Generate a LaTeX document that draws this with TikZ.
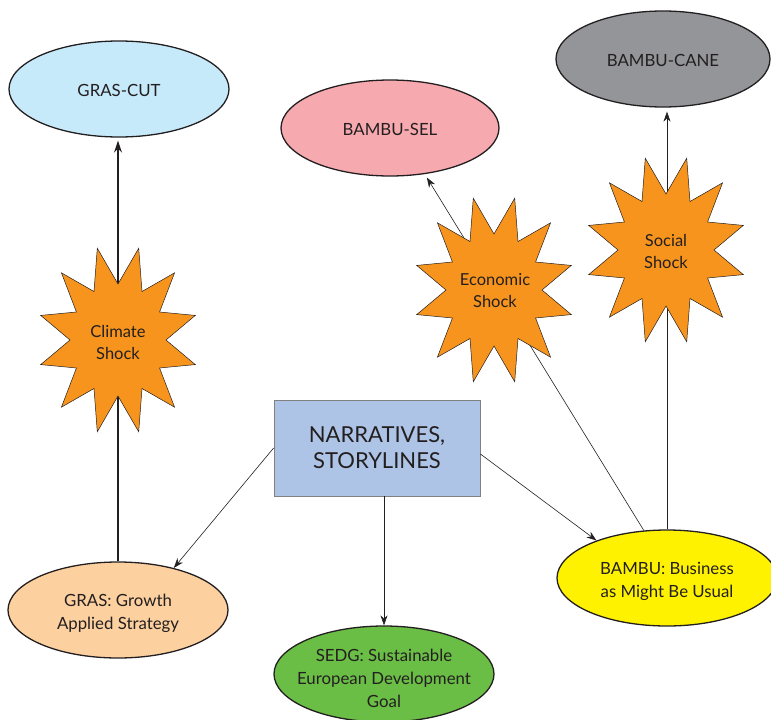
\documentclass[tikz,border=0pt]{standalone}
\usepackage{fontspec}
\setmainfont{Lato}
\usetikzlibrary{arrows.meta,shapes.geometric}
\definecolor{txt}{HTML}{231F20}
\definecolor{cutblue}{HTML}{C7EAFB}
\definecolor{selpink}{HTML}{F6A9AE}
\definecolor{canegray}{HTML}{939598}
\definecolor{starorange}{HTML}{F7941D}
\definecolor{boxblue}{HTML}{AEC4E6}
\definecolor{grasorange}{HTML}{FDD09F}
\definecolor{sedggreen}{HTML}{6ABD45}
\definecolor{bambuyellow}{HTML}{FFF200}
\newcommand\ctext[2][15pt]{\raisebox{-#1}{\smash{\makebox[0pt]{\begin{tabular}{@{}c@{}}#2\end{tabular}}}}}
\newcommand\shockstar[2]{%
  \draw[starst] ({#1+48},{#2}) \foreach \i in {1,...,23}{ -- ({#1+ifthenelse(mod(\i,2)==1,80,48)*cos(15*\i)},{#2+ifthenelse(mod(\i,2)==1,95,56)*sin(15*\i)}) } -- cycle;}
\begin{document}
\begin{tikzpicture}[x=1pt,y=-1pt,
  oval/.style={ellipse,draw=txt,line width=1.3pt,minimum width=220pt,minimum height=96pt,inner sep=0pt,
    text=txt,font=\fontsize{16.8}{23}\selectfont},
  boxst/.style={rectangle,draw=black!50,line width=0.8pt,fill=boxblue,minimum width=206pt,minimum height=96pt,
    align=center,text=txt,font=\fontsize{22}{26}\selectfont},
  starst/.style={draw=txt,line width=0.5pt,fill=starorange},
  startext/.style={align=center,text=txt,font=\fontsize{16.5}{22}\selectfont},
  arr/.style={draw=txt,line width=0.6pt,-{Stealth[length=10pt,width=7pt]}},
  thickarr/.style={draw=txt,line width=1.6pt,-{Stealth[length=12pt,width=8pt]}}]
\useasboundingbox (0,0) rectangle (771,720);
% ellipses
\node[oval,fill=cutblue] (grascut) at (119,89) {\ctext{GRAS-CUT}};
\node[oval,fill=selpink,minimum width=218pt] (bambusel) at (390,128) {\ctext{BAMBU-SEL}};
\node[oval,fill=canegray,minimum width=214pt] (bambucane) at (663,59) {\ctext{BAMBU-CANE}};
\node[oval,fill=grasorange] (gras) at (118,610) {\ctext{GRAS: Growth\\Applied Strategy}};
\node[oval,fill=sedggreen] (sedg) at (384,674) {\ctext[21pt]{SEDG: Sustainable\\European Development\\Goal}};
\node[oval,fill=bambuyellow] (bambu) at (667,578) {\ctext{BAMBU: Business\\as Might Be Usual}};
\node[boxst] (narr) at (377,448) {NARRATIVES,\\STORYLINES};
% connectors
\draw[thickarr,shorten >=3pt] (gras.north) -- (gras.north |- grascut.south);
\draw[arr,shorten >=4pt] (bambu.116) -- (bambusel.-53);
\draw[arr,shorten >=4pt] (bambu.north) -- (bambu.north |- bambucane.south);
\draw[arr] (narr.west) -- (gras.37);
\draw[arr] (narr.south -| sedg.north) -- (sedg.north);
\draw[arr] ([yshift=-6pt]narr.east) -- (bambu.152);
% shocks
\shockstar{118}{340}
\shockstar{494}{290}
\shockstar{666}{250}
\node[startext] (climate) at (118,342) {Climate\\Shock};
\node[startext] (economic) at (495,291) {Economic\\Shock};
\node[startext] (social) at (666,251) {Social\\Shock};
\end{tikzpicture}
\end{document}
